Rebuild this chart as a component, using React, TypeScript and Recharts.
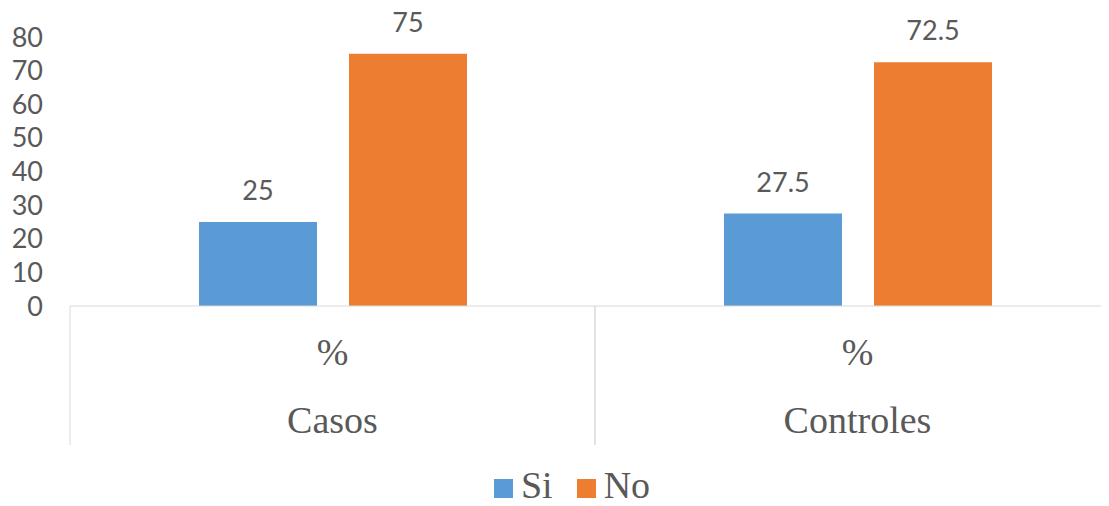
import { BarChart, Bar, XAxis, YAxis, LabelList, Legend } from "recharts";

const groups = ["Casos", "Controles"];
const measureLabel = "%";
const siValues = [25, 27.5];
const noValues = [75, 72.5];
const yTicks = [0, 10, 20, 30, 40, 50, 60, 70, 80];

const BLUE = "#5B9BD5";
const ORANGE = "#ED7D31";
const TEXT = "#595959";
const GRID = "#d9d9d9";

const CHART_W = 1120;
const Y_W = 70;
const HALF_BAND = (CHART_W - Y_W) / groups.length / 2;

const data = groups.map((g, i) => ({ group: g, Si: siValues[i], No: noValues[i] }));

function CategoryTick({ x, y, payload }: any) {
  return (
    <g>
      <line x1={x - HALF_BAND} x2={x - HALF_BAND} y1={y} y2={y + 139} stroke={GRID} />
      <line x1={x + HALF_BAND} x2={x + HALF_BAND} y1={y} y2={y + 139} stroke={GRID} />
      <text x={x} y={y + 59} textAnchor="middle" fill={TEXT} fontSize={38} fontFamily="Liberation Serif">
        {measureLabel}
      </text>
      <text x={x} y={y + 127} textAnchor="middle" fill={TEXT} fontSize={38} fontFamily="Liberation Serif">
        {payload.value}
      </text>
    </g>
  );
}

function LegendContent() {
  const items = [
    { name: "Si", color: BLUE },
    { name: "No", color: ORANGE },
  ];
  return (
    <div
      style={{
        display: "flex",
        justifyContent: "center",
        alignItems: "center",
        height: 42,
        paddingLeft: 48,
        fontFamily: "Liberation Serif",
        fontSize: 38,
        lineHeight: "42px",
        color: TEXT,
      }}
    >
      {items.map((it) => (
        <span key={it.name} style={{ display: "flex", alignItems: "center", marginRight: 24 }}>
          <span
            style={{ width: 19, height: 19, background: it.color, marginRight: 8, marginTop: 6, display: "inline-block" }}
          />
          <span>{it.name}</span>
        </span>
      ))}
    </div>
  );
}

export default function App() {
  return (
    <div style={{ width: 1109, height: 506, overflow: "hidden", margin: "-8px 0 0 -8px", background: "#fff" }}>
      <BarChart
        width={CHART_W}
        height={506}
        data={data}
        margin={{ top: 37, right: 0, bottom: 0, left: 0 }}
        barGap={32}
        barSize={118}
      >
        <YAxis
          width={Y_W}
          domain={[0, 80]}
          ticks={yTicks}
          interval={0}
          axisLine={false}
          tickLine={false}
          tickSize={0}
          tickMargin={27}
          tick={{ fill: TEXT, fontSize: 27, fontFamily: "Lato" }}
        />
        <XAxis
          dataKey="group"
          height={158}
          interval={0}
          axisLine={{ stroke: GRID }}
          tickLine={false}
          tickSize={0}
          tickMargin={0}
          tick={<CategoryTick />}
        />
        <Legend verticalAlign="bottom" height={42} content={<LegendContent />} />
        <Bar dataKey="Si" fill={BLUE} isAnimationActive={false}>
          <LabelList dataKey="Si" position="top" offset={22} fill={TEXT} fontSize={27} fontFamily="Lato" />
        </Bar>
        <Bar dataKey="No" fill={ORANGE} isAnimationActive={false}>
          <LabelList dataKey="No" position="top" offset={22} fill={TEXT} fontSize={27} fontFamily="Lato" />
        </Bar>
      </BarChart>
    </div>
  );
}
